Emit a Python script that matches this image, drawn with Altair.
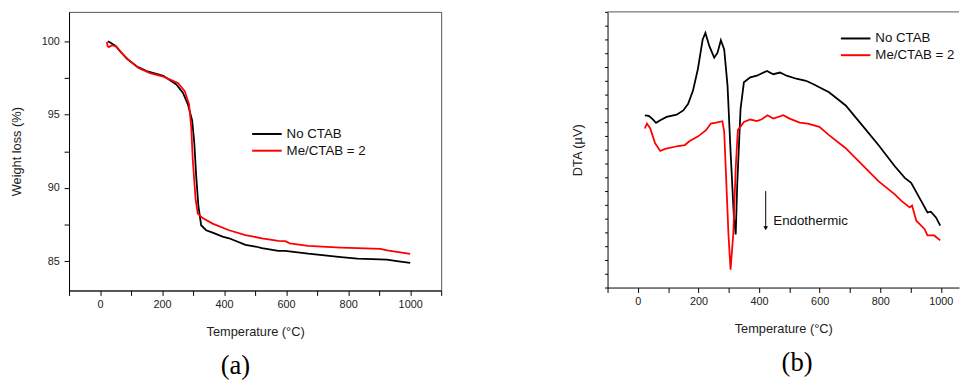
import altair as alt
import pandas as pd

SERIES = ["No CTAB", "Me/CTAB = 2"]
COLORS = ["#000000", "#ff0000"]

# ---- (a) TGA ----
tga_T_black = [25, 34, 50, 66, 87, 119, 150, 204, 246, 267, 283, 297, 304, 310, 317, 326, 342, 363, 395, 416,
               469, 501, 522, 575, 597, 671, 777, 830, 925, 957, 1000]
tga_W_black = [100.0, 99.9, 99.68, 99.28, 98.79, 98.28, 97.97, 97.64, 97.05, 96.49, 95.71, 94.6, 93.03, 90.8,
               88.79, 87.45, 87.11, 86.95, 86.67, 86.56, 86.11, 86.0, 85.89, 85.71, 85.71, 85.51, 85.28, 85.17,
               85.1, 85.0, 84.88]
tga_T_red = [22, 24, 28, 39, 53, 71, 92, 124, 161, 204, 251, 273, 287, 294, 299, 308, 315, 331, 363, 416, 469,
             522, 575, 597, 612, 671, 777, 830, 904, 926, 968, 1000]
tga_W_red = [99.95, 99.68, 99.6, 99.73, 99.62, 99.17, 98.73, 98.17, 97.83, 97.58, 97.16, 96.6, 95.71, 94.15,
             91.92, 89.24, 88.24, 87.94, 87.56, 87.11, 86.78, 86.56, 86.38, 86.36, 86.22, 86.04, 85.93, 85.89,
             85.84, 85.73, 85.6, 85.49]

# ---- (b) DTA (arbitrary units) ----
dta_T_black = [23, 36, 47, 60, 74, 95, 128, 150, 166, 182, 198, 214, 223, 236, 252, 263, 274, 285, 296, 306,
               317, 323, 328, 339, 350, 371, 393, 426, 447, 469, 491, 523, 555, 578, 631, 686, 740, 794, 848,
               881, 902, 935, 956, 967, 984, 998]
dta_V_black = [12.5, 12.45, 12.26, 11.95, 12.14, 12.38, 12.54, 12.85, 13.33, 14.29, 15.84, 18.0, 18.47, 17.51,
               16.68, 17.04, 17.94, 17.28, 14.65, 9.87, 5.09, 3.85, 7.48, 12.97, 14.89, 15.25, 15.37, 15.72,
               15.48, 15.6, 15.37, 15.15, 15.0, 14.77, 14.17, 13.21, 11.78, 10.34, 8.8, 7.96, 7.6, 6.29, 5.45,
               5.5, 5.09, 4.49]
dta_T_red = [23, 30, 41, 57, 74, 90, 133, 155, 171, 198, 225, 241, 258, 279, 285, 290, 299, 306, 315, 323, 330,
             350, 371, 393, 409, 428, 447, 480, 501, 534, 561, 599, 631, 686, 740, 794, 848, 870, 897, 905, 919,
             946, 956, 978, 998]
dta_V_red = [11.54, 11.9, 11.54, 10.47, 9.91, 10.06, 10.27, 10.34, 10.63, 10.95, 11.42, 11.9, 11.97, 12.07,
             11.3, 8.67, 3.89, 1.3, 3.89, 8.67, 11.42, 12.02, 12.19, 12.07, 12.21, 12.5, 12.26, 12.5, 12.26,
             11.97, 11.9, 11.66, 11.06, 10.11, 8.91, 7.72, 6.76, 6.29, 5.81, 5.95, 4.85, 4.25, 3.78, 3.78, 3.42]

x_ticks = list(range(-100, 1101, 100))
tga_y_ticks = [85, 87.5, 90, 92.5, 95, 97.5, 100]
dta_y_ticks = list(range(0, 21))

FONT = "Liberation Sans"

tga = pd.concat([
    pd.DataFrame({"T": tga_T_black, "v": tga_W_black, "s": SERIES[0], "o": 0}),
    pd.DataFrame({"T": tga_T_red, "v": tga_W_red, "s": SERIES[1], "o": 1}),
])
dta = pd.concat([
    pd.DataFrame({"T": dta_T_black, "v": dta_V_black, "s": SERIES[0], "o": 0}),
    pd.DataFrame({"T": dta_T_red, "v": dta_V_red, "s": SERIES[1], "o": 1}),
])

color = alt.Color("s:N", scale=alt.Scale(domain=SERIES, range=COLORS), legend=None)


def xaxis():
    return alt.Axis(title="Temperature (°C)", values=x_ticks, grid=False,
                    labelExpr="datum.value % 200 == 0 ? datum.value : ''",
                    tickSize=5, labelPadding=3, titlePadding=17, labelOverlap=False)


def legend_layers(x0, x1, xt, ys):
    layers = []
    for name, col, yy in zip(SERIES, COLORS, ys):
        layers.append(alt.Chart(pd.DataFrame({"n": [name]})).mark_rule(color=col, strokeWidth=2).encode(
            x=alt.value(x0), x2=alt.value(x1), y=alt.value(yy)))
        layers.append(alt.Chart(pd.DataFrame({"n": [name]})).mark_text(
            align="left", baseline="middle", font=FONT, fontSize=13.5, color="#111").encode(
            text="n:N", x=alt.value(xt), y=alt.value(yy)))
    return layers


# ---------- left panel ----------
LW, LH = 378, 283
left_lines = alt.Chart(tga).mark_line(strokeWidth=1.8).encode(
    x=alt.X("T:Q", scale=alt.Scale(domain=[-100, 1100], nice=False, zero=False), axis=xaxis()),
    y=alt.Y("v:Q", scale=alt.Scale(domain=[83, 102], nice=False, zero=False),
            axis=alt.Axis(title="Weight loss (%)", values=tga_y_ticks, grid=False,
                          labelExpr="datum.value % 5 == 0 ? datum.value : ''",
                          tickSize=5, labelPadding=5, titlePadding=18)),
    color=color, detail="s:N", order="o:Q",
)
left = alt.layer(left_lines, *legend_layers(186, 216, 221, [124, 141])).properties(
    width=LW, height=LH,
    title=alt.TitleParams("(a)", orient="bottom", font="Liberation Serif", fontSize=27,
                          fontWeight="normal", anchor="middle", dx=-20, offset=15, color="#000"),
)

# ---------- right panel ----------
RW, RH = 357, 280
XR_SCALE = alt.Scale(domain=[-100, 1060], nice=False, zero=False)
YR_SCALE = alt.Scale(domain=[0, 20], nice=False, zero=False)
YR_AXIS = alt.Axis(title="DTA (µV)", values=dta_y_ticks, grid=False, labels=False,
                   tickSize=3, titlePadding=20)


def xr(field):
    return alt.X(field, scale=XR_SCALE, axis=xaxis())


def yr(field):
    return alt.Y(field, scale=YR_SCALE, axis=YR_AXIS)


right_lines = alt.Chart(dta).mark_line(strokeWidth=1.8).encode(
    x=xr("T:Q"), y=yr("v:Q"), color=color, detail="s:N", order="o:Q",
)
top_border = alt.Chart(pd.DataFrame({"a": [0]})).mark_rule(color="#555", strokeWidth=1).encode(
    x=alt.value(0), x2=alt.value(RW), y=alt.value(0))

arrow_df = pd.DataFrame({"T": [422], "v0": [7.0], "v1": [4.4], "tip": [4.3], "label": ["Endothermic"],
                         "tx": [447], "ty": [4.8]})
arrow_rule = alt.Chart(arrow_df).mark_rule(color="#000", strokeWidth=1).encode(
    x=xr("T:Q"), y=yr("v0:Q"), y2="v1:Q")
arrow_head = alt.Chart(arrow_df).mark_point(shape="triangle-down", filled=True, color="#000", size=22,
                                            opacity=1).encode(x=xr("T:Q"), y=yr("tip:Q"))
arrow_text = alt.Chart(arrow_df).mark_text(align="left", baseline="middle", font=FONT, fontSize=13.5,
                                           color="#111").encode(x=xr("tx:Q"), y=yr("ty:Q"), text="label:N")

right = alt.layer(right_lines, top_border, arrow_rule, arrow_head, arrow_text,
                  *legend_layers(237, 267, 272, [27, 44])).properties(
    width=RW, height=RH,
    view=alt.ViewBackground(stroke="transparent"),
    title=alt.TitleParams("(b)", orient="bottom", font="Liberation Serif", fontSize=27,
                          fontWeight="normal", anchor="middle", dx=14, offset=15, color="#000"),
)

chart = alt.hconcat(left, right, spacing=131).properties(
    padding={"left": 2, "top": 0, "right": 0, "bottom": 0}
).configure_view(stroke="#555").configure_axis(
    domainColor="#000", tickColor="#000", labelFont=FONT, labelFontSize=11, labelColor="#222",
    titleFont=FONT, titleFontSize=13, titleFontWeight="normal", titleColor="#222",
)

chart.save("out.html", embed_options={"renderer": "svg", "actions": False})
